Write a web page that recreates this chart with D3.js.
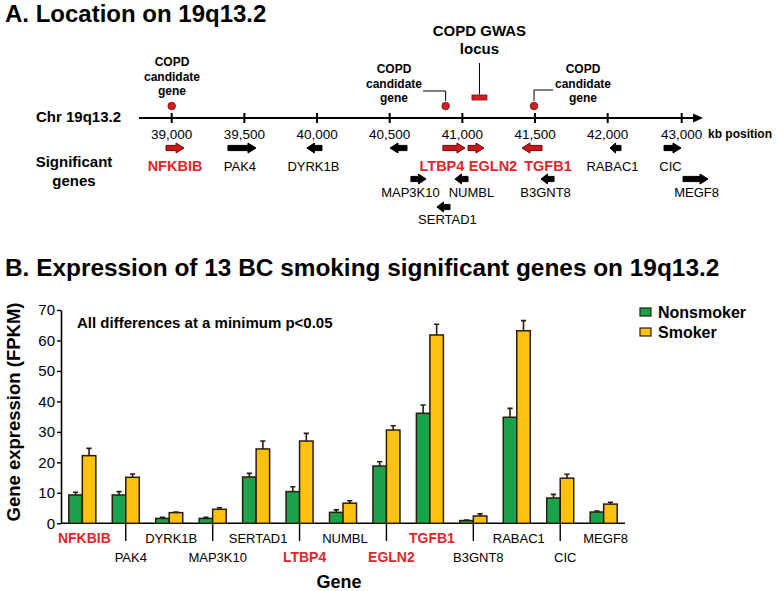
<!DOCTYPE html>
<html>
<head>
<meta charset="utf-8">
<script src="https://cdn.jsdelivr.net/npm/d3@7.8.5/dist/d3.min.js"></script>
<style>
  html, body { margin: 0; padding: 0; background: #fff; }
  svg { display: block; font-family: "Liberation Sans", Arial, sans-serif; }
</style>
</head>
<body>
<svg id="chart" width="776" height="591"></svg>
<script>
// ---- Panel A data: chromosome map (kb positions) ----
const kbTicks = [39000, 39500, 40000, 40500, 41000, 41500, 42000, 43000];
const mapGenes = ['NFKBIB', 'PAK4', 'DYRK1B', '', 'MAP3K10', 'SERTAD1', 'LTBP4', 'NUMBL', 'EGLN2', 'TGFB1', 'B3GNT8', 'RABAC1', 'CIC', 'MEGF8'];
const geneStart = [38961, 39387, 39930, 40502, 40646, 40825, 40866, 40949, 41039, 41410, 41541, 42031, 42761, 43018];
const geneEnd   = [39085, 39580, 40034, 40619, 40750, 40915, 41018, 41039, 41149, 41548, 41631, 42180, 42991, 43356];
const geneStrand = [1, 1, -1, -1, 1, -1, 1, -1, 1, -1, -1, -1, 1, 1];
const geneRow    = [0, 0, 0, 0, 1, 2, 0, 1, 0, 0, 1, 0, 0, 1];
const copdCandidates = [39000, 40885, 41493];
const gwasLocus = [41066, 41169];

// ---- Panel B data: expression (FPKM) ----
const genes = ['NFKBIB', 'PAK4', 'DYRK1B', 'MAP3K10', 'SERTAD1', 'LTBP4', 'NUMBL', 'EGLN2', 'TGFB1', 'B3GNT8', 'RABAC1', 'CIC', 'MEGF8'];
const nonsmoker    = [9.3, 9.3, 1.6, 1.6, 15.2, 10.4, 3.6, 18.8, 36.1, 0.9, 34.8, 8.3, 3.7];
const nonsmokerErr = [0.9, 1.1, 0.4, 0.4, 1.2, 1.6, 0.8, 1.4, 2.7, 0.2, 2.9, 1.2, 0.3];
const smoker       = [22.2, 15.1, 3.5, 4.6, 24.4, 27.0, 6.6, 30.6, 61.8, 2.4, 63.2, 14.8, 6.3];
const smokerErr    = [2.4, 1.1, 0.2, 0.5, 2.6, 2.5, 0.8, 1.4, 3.5, 0.7, 3.3, 1.3, 0.6];
const yTicks = [0, 10, 20, 30, 40, 50, 60, 70];
const copdGenes = ['NFKBIB', 'LTBP4', 'EGLN2', 'TGFB1'];

const RED = '#e0262b';
const GREEN = '#1aa24d';
const YELLOW = '#fec10f';
const OUTLINE = '#2a1c0c';

const svg = d3.select('#chart');

// ================= Panel A =================
svg.append('text')
    .attr('x', 5).attr('y', 22)
    .style('font-size', '24px').style('font-weight', 'bold')
    .text('A. Location on 19q13.2');

// axis is compressed between 42,000 and 43,000
const x = d3.scaleLinear()
    .domain([39000, 42000, 43000])
    .range([171.7, 607.7, 681.7]);

const axisY = 118;
const gA = svg.append('g');

gA.append('line')
    .attr('x1', 139).attr('x2', 696)
    .attr('y1', axisY).attr('y2', axisY)
    .attr('stroke', '#000').attr('stroke-width', 2.2);
gA.append('path')
    .attr('d', `M693,${axisY - 4.5}L703,${axisY}L693,${axisY + 4.5}Z`)
    .attr('fill', '#000');

gA.selectAll('.kb-tick')
    .data(kbTicks)
    .enter()
    .append('line')
    .attr('x1', d => x(d)).attr('x2', d => x(d))
    .attr('y1', axisY - 5).attr('y2', axisY + 5)
    .attr('stroke', '#000').attr('stroke-width', 2);

gA.selectAll('.kb-label')
    .data(kbTicks)
    .enter()
    .append('text')
    .attr('x', d => x(d)).attr('y', 139)
    .attr('text-anchor', 'middle')
    .style('font-size', '13.5px')
    .text(d => d3.format(',')(d));

gA.append('text')
    .attr('x', 708).attr('y', 138)
    .style('font-size', '12px').style('font-weight', 'bold')
    .text('kb position');

gA.append('text')
    .attr('x', 36).attr('y', 122)
    .style('font-size', '15px').style('font-weight', 'bold')
    .text('Chr 19q13.2');

gA.append('text')
    .attr('x', 74).attr('text-anchor', 'middle')
    .style('font-size', '15px').style('font-weight', 'bold')
    .selectAll('tspan')
    .data(['Significant', 'genes'])
    .enter()
    .append('tspan')
    .attr('x', 74)
    .attr('y', (d, i) => 167 + i * 18.5)
    .text(d => d);

// COPD candidate markers
const markerY = 106;
gA.selectAll('.cand')
    .data(copdCandidates)
    .enter()
    .append('circle')
    .attr('cx', d => x(d)).attr('cy', markerY).attr('r', 3.8)
    .attr('fill', '#d21f1f').attr('stroke', '#7a0c0c').attr('stroke-width', 0.8);

// label layout for the three candidate callouts
const candLayout = [
    { tx: 172, ty: 66, leader: null },
    { tx: 394, ty: 73, leader: { up: 91, to: 423 } },
    { tx: 583, ty: 73, leader: { up: 90, to: 553 } }
];
copdCandidates.forEach((kb, i) => {
    const L = candLayout[i];
    const t = gA.append('text')
        .attr('text-anchor', 'middle')
        .style('font-size', '12px').style('font-weight', 'bold');
    ['COPD', 'candidate', 'gene'].forEach((s, j) => {
        t.append('tspan').attr('x', L.tx).attr('y', L.ty + j * 14.5).text(s);
    });
    if (L.leader) {
        gA.append('path')
            .attr('d', `M${x(kb)},${markerY - 5}V${L.leader.up}H${L.leader.to}`)
            .attr('fill', 'none').attr('stroke', '#000').attr('stroke-width', 1);
    }
});

// GWAS locus
gA.append('rect')
    .attr('x', x(gwasLocus[0])).attr('y', 95)
    .attr('width', x(gwasLocus[1]) - x(gwasLocus[0])).attr('height', 5)
    .attr('fill', '#d21f1f').attr('stroke', '#7a0c0c').attr('stroke-width', 0.8);
const gwasMid = (x(gwasLocus[0]) + x(gwasLocus[1])) / 2;
gA.append('line')
    .attr('x1', gwasMid).attr('x2', gwasMid)
    .attr('y1', 63).attr('y2', 94.5)
    .attr('stroke', '#000').attr('stroke-width', 1);
gA.append('text')
    .attr('text-anchor', 'middle')
    .style('font-size', '15px').style('font-weight', 'bold')
    .selectAll('tspan')
    .data(['COPD GWAS', 'locus'])
    .enter()
    .append('tspan')
    .attr('x', gwasMid)
    .attr('y', (d, i) => 36 + i * 18)
    .text(d => d);

// gene arrows
const rowArrowY = [148, 179, 207];
const rowLabelY = [171, 197, 224];
const labelNudge = { NFKBIB: 0, PAK4: -2, DYRK1B: -1, MAP3K10: -8, SERTAD1: 4, LTBP4: -12, NUMBL: 10, EGLN2: 17, TGFB1: 16, B3GNT8: -2, RABAC1: -3, CIC: -2, MEGF8: 1 };

function arrowPath(x0, x1, strand, cy) {
    const len = x1 - x0;
    const head = Math.min(8, len * 0.5);
    const bh = 2.6, hh = 5;
    if (strand > 0) {
        return `M${x0},${cy - bh}H${x1 - head}V${cy - hh}L${x1},${cy}L${x1 - head},${cy + hh}V${cy + bh}H${x0}Z`;
    }
    return `M${x1},${cy - bh}H${x0 + head}V${cy - hh}L${x0},${cy}L${x0 + head},${cy + hh}V${cy + bh}H${x1}Z`;
}

const geneData = mapGenes.map((name, i) => ({
    name, start: geneStart[i], end: geneEnd[i], strand: geneStrand[i], row: geneRow[i],
    copd: copdGenes.includes(name)
}));

gA.selectAll('.gene-arrow')
    .data(geneData)
    .enter()
    .append('path')
    .attr('d', d => arrowPath(x(d.start), x(d.end), d.strand, rowArrowY[d.row]))
    .attr('fill', d => d.copd ? '#c8181c' : '#000')
    .attr('stroke', d => d.copd ? '#6a0808' : '#000')
    .attr('stroke-width', 1);

gA.selectAll('.gene-label')
    .data(geneData.filter(d => d.name))
    .enter()
    .append('text')
    .attr('x', d => (x(d.start) + x(d.end)) / 2 + labelNudge[d.name])
    .attr('y', d => rowLabelY[d.row])
    .attr('text-anchor', 'middle')
    .style('font-size', d => d.copd ? '14.5px' : '13px')
    .style('font-weight', d => d.copd ? 'bold' : 'normal')
    .style('fill', d => d.copd ? RED : '#000')
    .text(d => d.name);

// ================= Panel B =================
svg.append('text')
    .attr('x', 5).attr('y', 276)
    .style('font-size', '24.4px').style('font-weight', 'bold')
    .text('B. Expression of 13 BC smoking significant genes on 19q13.2');

const y = d3.scaleLinear().domain([0, 70]).range([523.3, 310]);
const xb = d3.scaleBand()
    .domain(genes)
    .range([61, 625])
    .paddingInner(0.378)
    .paddingOuter(0.18);
const xs = d3.scaleBand()
    .domain(['Nonsmoker', 'Smoker'])
    .range([0, xb.bandwidth()]);

const gB = svg.append('g');

// y axis
const yAxis = gB.append('g')
    .attr('transform', 'translate(61,0)')
    .call(d3.axisLeft(y).tickValues(yTicks).tickSize(4).tickPadding(2).tickSizeOuter(0));
yAxis.select('.domain').attr('stroke-width', 1.6);
yAxis.selectAll('.tick line').attr('stroke-width', 1.4);
yAxis.selectAll('.tick text')
    .style('font-size', '15px')
    .style('font-family', '"Liberation Sans", Arial, sans-serif');

// x baseline
gB.append('line')
    .attr('x1', 61).attr('x2', 625)
    .attr('y1', y(0)).attr('y2', y(0))
    .attr('stroke', '#000').attr('stroke-width', 1.6);

const series = [
    { key: 'Nonsmoker', values: nonsmoker, err: nonsmokerErr, color: GREEN },
    { key: 'Smoker', values: smoker, err: smokerErr, color: YELLOW }
];

series.forEach(s => {
    const bars = genes.map((g, i) => ({ gene: g, v: s.values[i], e: s.err[i] }));
    gB.selectAll(`.bar-${s.key}`)
        .data(bars)
        .enter()
        .append('rect')
        .attr('x', d => xb(d.gene) + xs(s.key))
        .attr('y', d => y(d.v))
        .attr('width', xs.bandwidth())
        .attr('height', d => y(0) - y(d.v))
        .attr('fill', s.color)
        .attr('stroke', OUTLINE)
        .attr('stroke-width', 1.5);

    const cx = d => xb(d.gene) + xs(s.key) + xs.bandwidth() / 2;
    gB.selectAll(`.err-${s.key}`)
        .data(bars)
        .enter()
        .append('path')
        .attr('d', d => `M${cx(d)},${y(d.v)}V${y(d.v + d.e)}M${cx(d) - 2.6},${y(d.v + d.e)}H${cx(d) + 2.6}`)
        .attr('fill', 'none')
        .attr('stroke', OUTLINE)
        .attr('stroke-width', 1.6);
});

// category labels, alternating rows with separators on the lower row
const groupMid = g => xb(g) + xb.bandwidth() / 2;
gB.selectAll('.sep')
    .data(genes.filter((g, i) => i % 2 === 1))
    .enter()
    .append('line')
    .attr('x1', d => groupMid(d)).attr('x2', d => groupMid(d))
    .attr('y1', y(0)).attr('y2', 541)
    .attr('stroke', '#000').attr('stroke-width', 1.4);

gB.selectAll('.cat')
    .data(genes)
    .enter()
    .append('text')
    .attr('x', (d, i) => groupMid(d) + (i % 2 === 0 ? 2 : 5))
    .attr('y', (d, i) => i % 2 === 0 ? 543 : 562)
    .attr('text-anchor', 'middle')
    .style('font-size', d => copdGenes.includes(d) ? '14px' : '13px')
    .style('font-weight', d => copdGenes.includes(d) ? 'bold' : 'normal')
    .style('fill', d => copdGenes.includes(d) ? RED : '#000')
    .text(d => d);

// axis titles
gB.append('text')
    .attr('x', 339).attr('y', 588)
    .attr('text-anchor', 'middle')
    .style('font-size', '18px').style('font-weight', 'bold')
    .text('Gene');

gB.append('text')
    .attr('transform', 'translate(20,412) rotate(-90)')
    .attr('text-anchor', 'middle')
    .style('font-size', '18.5px').style('font-weight', 'bold')
    .text('Gene expression (FPKM)');

gB.append('text')
    .attr('x', 77).attr('y', 328)
    .style('font-size', '15px').style('font-weight', 'bold')
    .text('All differences at a minimum p<0.05');

// legend
const legend = gB.selectAll('.legend')
    .data(series)
    .enter()
    .append('g')
    .attr('transform', (d, i) => `translate(640,${308 + i * 20})`);
legend.append('rect')
    .attr('width', 11).attr('height', 8)
    .attr('fill', d => d.color)
    .attr('stroke', OUTLINE).attr('stroke-width', 1.2);
legend.append('text')
    .attr('x', 18).attr('y', 10)
    .style('font-size', '16px').style('font-weight', 'bold')
    .text(d => d.key);
</script>
</body>
</html>
